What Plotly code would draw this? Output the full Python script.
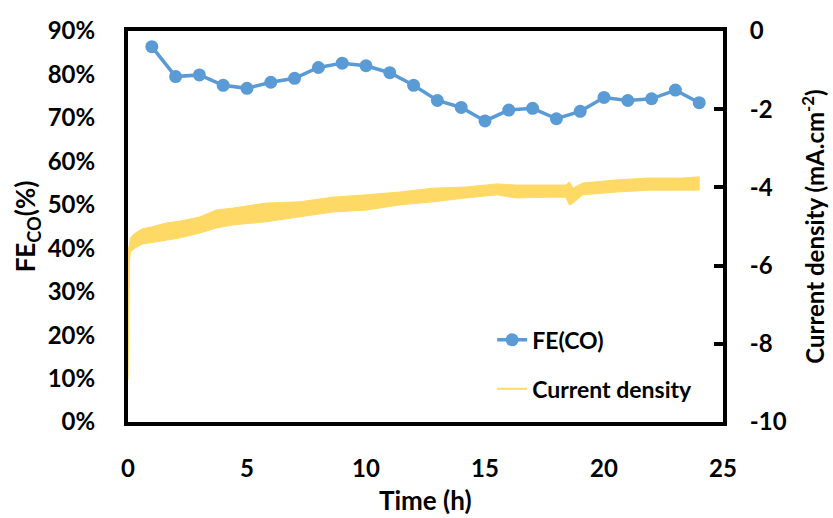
import plotly.graph_objects as go

# FE(CO) data
fe_time = list(range(1, 25))
fe_co = [0.864, 0.795, 0.799, 0.775, 0.768, 0.782, 0.791, 0.816, 0.826, 0.820, 0.804, 0.775,
         0.740, 0.724, 0.693, 0.718, 0.722, 0.698, 0.715, 0.747, 0.740, 0.744, 0.764, 0.735]

# Current density band (noisy trace shown as upper/lower envelope)
cd_time = [0, 0.06, 0.1, 0.3, 0.6, 1.0, 1.6, 2.2, 3.0, 3.7, 4.4, 5.8, 7.2, 8.6, 10.0, 11.4,
           12.8, 14.2, 15.5, 16.3, 17.7, 18.4, 18.55, 18.7, 19.1, 20.5, 21.9, 23.3, 24.0]
cd_upper = [-5.60, -5.47, -5.29, -5.17, -5.06, -5.01, -4.91, -4.86, -4.76, -4.58, -4.53, -4.40,
            -4.37, -4.25, -4.19, -4.12, -4.02, -3.99, -3.91, -3.94, -3.94, -3.94, -3.86, -4.02,
            -3.89, -3.81, -3.76, -3.76, -3.73]
cd_lower = [-8.93, -5.91, -5.65, -5.55, -5.45, -5.40, -5.35, -5.29, -5.17, -5.04, -4.96, -4.88,
            -4.76, -4.63, -4.58, -4.45, -4.37, -4.27, -4.19, -4.27, -4.25, -4.25, -4.45, -4.40,
            -4.19, -4.12, -4.07, -4.07, -4.07]

x_ticks = [0, 5, 10, 15, 20, 25]
y_ticks = [0, 0.1, 0.2, 0.3, 0.4, 0.5, 0.6, 0.7, 0.8, 0.9]
y2_ticks = [0, -2, -4, -6, -8, -10]
y2_labels = ["0", "-2", "-4", "-6", "-8", "-10"]

FONT = "Lato"
BLUE = "#5B9BD5"
GOLD = "#FFD966"

fig = go.Figure()

fig.add_trace(go.Scatter(
    x=cd_time + cd_time[::-1], y=cd_upper + cd_lower[::-1],
    fill="toself", fillcolor=GOLD, mode="lines",
    line=dict(color=GOLD, width=1), yaxis="y2", showlegend=False, hoverinfo="skip"))

fig.add_trace(go.Scatter(
    x=fe_time, y=fe_co, mode="lines+markers", name="FE(CO)", legendgroup="a",
    line=dict(color=BLUE, width=3.5), marker=dict(color=BLUE, size=13)))

fig.add_trace(go.Scatter(
    x=[None], y=[None], mode="lines", name="Current density", legendgroup="b",
    line=dict(color=GOLD, width=2), yaxis="y2"))

axis_font = dict(family=FONT, size=24, color="black", weight="bold")
title_font = dict(family=FONT, size=26, color="black", weight="bold")

fig.update_layout(
    width=833, height=518,
    margin=dict(l=128, r=110, t=31, b=96),
    paper_bgcolor="white", plot_bgcolor="white",
    showlegend=True,
    legend=dict(x=0.612, y=0.265, xanchor="left", yanchor="top",
                tracegroupgap=16, traceorder="grouped",
                font=dict(family=FONT, size=23, color="black", weight="bold"),
                bgcolor="rgba(0,0,0,0)"),
    xaxis=dict(range=[0, 25], tickvals=x_ticks, showgrid=False, zeroline=False,
               showline=True, linecolor="black", linewidth=4, mirror=True,
               ticks="", tickfont=axis_font, ticklabelstandoff=22, layer="below traces"),
    yaxis=dict(range=[0, 0.9], tickvals=y_ticks, tickformat=".0%", showgrid=False,
               zeroline=False, showline=True, linecolor="black", linewidth=4,
               ticks="", tickfont=axis_font, ticklabelstandoff=24, layer="below traces"),
    yaxis2=dict(range=[-10, 0], tickvals=y2_ticks, ticktext=y2_labels, overlaying="y",
                side="right", showgrid=False, zeroline=False, showline=True,
                linecolor="black", linewidth=4, ticks="inside", ticklen=9, tickwidth=4,
                tickcolor="black", tickfont=axis_font, ticklabelstandoff=18),
    annotations=[
        dict(text="Time (h)", xref="paper", yref="paper", x=0.5, y=-0.2,
             xanchor="center", yanchor="middle", showarrow=False, font=title_font),
        dict(text="FE<sub>CO</sub>(%)", xref="paper", yref="paper", x=-0.17, y=0.5,
             xanchor="center", yanchor="middle", showarrow=False, textangle=-90,
             font=title_font),
        dict(text="Current density (mA.cm<sup>-2</sup>)", xref="paper", yref="paper",
             x=1.15, y=0.5, xanchor="center", yanchor="middle", showarrow=False,
             textangle=-90, font=dict(family=FONT, size=24, color="black", weight="bold")),
    ],
)

fig.write_html("out.html")
